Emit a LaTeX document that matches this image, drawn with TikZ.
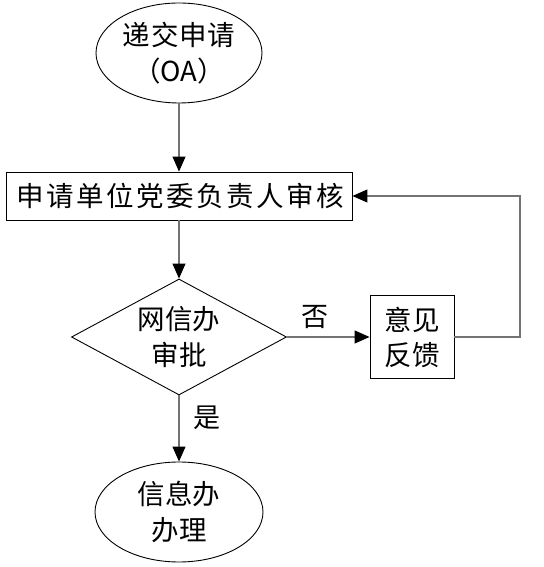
\documentclass[tikz,border=0pt]{standalone}
\usepackage{fontspec}
\setmainfont{Noto Sans CJK SC}
\usetikzlibrary{shapes.geometric,arrows.meta}
\begin{document}
\begin{tikzpicture}[x=1pt,y=1pt,
  shapeline/.style={draw=black,line width=0.9pt},
  ovalbox/.style={shapeline,ellipse,inner sep=0pt},
  rectbox/.style={shapeline,rectangle,inner sep=0pt,align=center},
  decbox/.style={shapeline,diamond,inner sep=0pt},
  txt/.style={align=center,inner sep=0pt,font=\fontsize{27.5}{36}\selectfont},
  conn/.style={draw=black!55,line width=1.1pt,-{Triangle[length=15pt,width=13pt,color=black,fill=black]}},
  lbl/.style={inner sep=0pt,font=\fontsize{27}{30}\selectfont}]
\useasboundingbox (0,0) rectangle (543,567);
% shapes
\node[ovalbox,minimum width=166pt,minimum height=100pt] (start) at (179,514) {};
\node[txt] at (start) {\addfontfeature{LetterSpace=3}递交申请\\（OA）};
\node[rectbox,minimum width=346pt,minimum height=48pt,font=\fontsize{27.5}{30}\selectfont] (review) at (179,371) {\hspace*{2pt}\addfontfeature{LetterSpace=9}申请单位党委负责人审核};
\node[decbox,minimum width=215pt,minimum height=116pt] (dec) at (179,230) {};
\node[txt] at (dec) {网信办\\审批};
\node[rectbox,minimum width=84pt,minimum height=83pt,font=\fontsize{27.5}{35}\selectfont] (fb) at (412,230) {意见\\反馈};
\node[ovalbox,minimum width=168pt,minimum height=100pt] (done) at (179,55) {};
\node[txt] at (done) {信息办\\办理};
\coordinate (corner) at (520,230);
% connectors
\draw[conn] (start.south) -- (review.north);
\draw[conn] (review.south) -- (dec.north);
\draw[conn] (dec.east) -- (fb.west);
\draw[conn] (dec.south) -- (done.north);
\draw[conn] (fb.east) -- (corner) |- (review.east);
% labels
\node[lbl] (no) at (315,250) {否};
\node[lbl] (yes) at (207,149) {是};
\end{tikzpicture}
\end{document}
